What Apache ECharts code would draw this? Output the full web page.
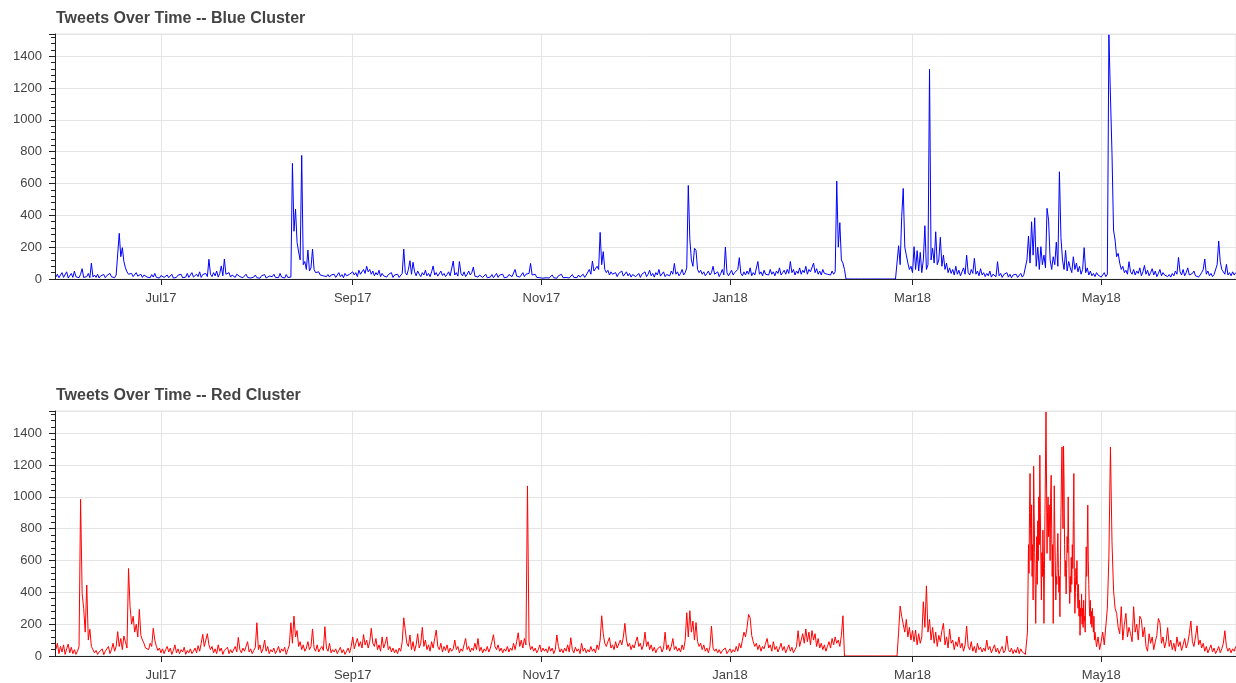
<!DOCTYPE html>
<html><head><meta charset="utf-8">
<script src="https://cdn.jsdelivr.net/npm/echarts@6/dist/echarts.min.js"></script>
<style>html,body{margin:0;padding:0;background:#fff}#c{width:1236px;height:683px}</style>
</head><body><div id="c"></div>
<script>
// ---- data ----
const titles = ['Tweets Over Time -- Blue Cluster', 'Tweets Over Time -- Red Cluster'];
const monthLabels = ['Jan','Feb','Mar','Apr','May','Jun','Jul','Aug','Sep','Oct','Nov','Dec'];
const seriesStart = '2017-05-28T00:00:00';
const stepHours = 12;
const xMin = '2017-05-27T17:30:00';
const xMax = '2018-06-13T14:20:00';
const yMax = 1540;
const yMajor = 200;
const yMinor = 40;

// blue: one value every 12 hours from seriesStart
const blueValues = [
12,30,8,25,40,10,20,45,6,18,35,10,50,14,22,8,30,65,10,20,
15,35,8,100,12,25,10,30,6,20,12,28,8,22,10,35,14,20,8,25,
30,287,140,197,110,70,45,30,20,35,15,25,40,18,12,30,10,25,35,12,
20,8,28,12,35,10,18,6,22,30,10,15,25,8,12,30,6,18,10,24,
14,30,8,20,12,35,10,25,40,12,18,30,15,45,10,28,20,35,15,124,
30,15,40,20,50,12,35,82,20,126,30,18,40,12,25,35,10,30,20,15,
25,8,15,30,10,20,6,18,12,25,8,15,5,20,10,28,6,12,18,8,
15,30,10,22,8,35,12,20,6,28,10,18,12,727,300,440,230,170,120,777,
90,110,60,182,50,70,188,60,40,30,45,25,35,20,30,15,28,12,25,18,
30,10,22,40,15,28,8,35,20,12,30,18,45,25,40,15,55,30,20,60,
35,80,45,60,30,50,20,40,25,55,15,35,20,30,12,28,18,40,10,25,
15,30,10,20,35,188,40,25,60,115,30,105,45,20,50,30,15,40,25,55,
20,35,15,45,82,25,40,18,30,50,22,35,15,28,45,20,30,113,25,40,
18,110,35,20,45,15,30,50,25,40,75,18,30,12,25,35,10,22,30,8,
20,12,28,8,18,35,10,25,15,30,8,20,12,28,40,15,25,60,18,30,
12,25,40,15,30,20,35,98,25,15,30,10,20,8,15,5,12,8,18,6,
10,25,8,15,5,20,12,30,8,18,10,22,6,15,28,10,20,8,25,12,
18,30,10,25,15,60,30,113,50,40,80,60,293,90,172,60,40,55,25,45,
30,20,40,15,35,25,50,18,30,45,20,35,12,28,40,15,25,35,10,30,
20,45,15,30,55,20,35,12,40,25,60,18,30,45,15,28,38,20,50,30,
98,30,45,20,35,60,25,40,70,588,250,120,80,193,180,60,40,55,30,45,
20,35,50,25,40,80,30,20,45,15,35,60,25,201,40,20,30,55,25,40,
30,60,134,35,20,45,25,50,30,70,20,40,25,35,110,30,45,20,55,30,
40,25,60,30,45,20,50,35,70,25,40,55,30,60,35,110,40,60,25,50,
35,70,30,55,40,80,30,60,45,35,100,40,65,30,50,25,60,35,45,30,
40,25,50,30,45,615,200,354,120,100,60,0,0,0,0,0,0,0,0,0,
0,0,0,0,0,0,0,0,0,0,0,0,0,0,0,0,0,0,0,0,
0,0,0,0,0,209,90,391,569,200,150,100,60,80,40,203,60,178,50,167,
40,120,335,60,90,1318,120,193,100,297,90,120,262,80,150,60,100,40,70,35,
60,25,80,30,55,20,45,70,30,150,40,25,60,35,130,30,50,20,65,25,
40,15,35,20,50,12,30,25,15,109,20,35,10,28,18,40,12,30,8,25,
15,30,10,22,35,12,28,18,120,270,100,360,150,385,80,200,60,203,90,150,
70,444,370,120,60,140,90,232,80,674,260,120,60,180,50,110,70,40,140,60,
100,45,80,30,60,197,40,70,25,50,20,35,15,40,25,30,12,25,40,15,
30,1535,1150,790,308,245,140,161,100,60,80,40,55,30,109,45,30,60,25,50,
35,70,20,45,85,30,55,20,40,65,25,50,15,35,60,20,40,25,30,15,
28,12,35,20,50,30,136,45,25,60,20,40,70,25,15,35,50,20,30,12,
25,40,60,126,30,50,20,35,15,28,40,90,239,110,60,45,30,92,25,40,
20,45,25,40
];

// red: 12-hourly values up to 2018-04-07 (628 values)
const redValuesBefore = [
40,80,15,60,25,70,10,45,75,20,55,15,40,10,30,60,985,394,300,150,
446,100,168,60,40,20,35,10,25,15,45,8,30,20,60,15,40,80,30,60,
153,60,110,40,126,90,50,550,310,200,250,150,200,120,293,130,100,80,50,60,
40,80,60,174,100,60,35,50,20,45,15,40,60,25,50,10,35,70,20,45,
15,40,25,55,10,35,20,45,15,30,50,20,65,30,80,136,60,100,140,70,
40,60,20,45,15,70,30,50,10,35,25,55,15,40,20,30,60,25,117,40,
20,50,30,60,90,25,45,15,35,55,209,40,70,20,45,100,30,60,15,40,
25,50,15,35,60,20,45,30,55,10,40,70,209,80,251,120,160,60,90,40,
70,30,50,90,40,60,170,50,30,70,25,45,60,35,184,50,30,80,20,40,
25,45,15,35,55,20,40,10,30,50,20,60,120,45,80,110,60,90,50,135,
70,100,50,90,174,80,60,110,40,70,30,120,50,80,120,40,60,25,50,20,
40,15,50,30,90,240,236,80,60,132,40,90,30,70,140,50,80,180,60,100,
40,70,30,90,50,110,163,60,40,80,25,60,35,70,20,50,30,45,100,40,
60,20,45,30,70,110,40,60,25,50,35,80,40,110,30,55,20,45,30,60,
25,50,90,134,60,40,70,30,50,20,45,30,60,25,50,35,80,40,90,146,
60,100,50,110,70,1069,90,40,60,30,50,20,40,70,25,50,30,45,20,60,
30,50,15,40,132,60,25,45,20,50,30,70,25,115,40,20,55,30,45,15,
80,30,50,20,40,25,60,30,45,20,70,40,100,253,140,80,60,90,115,50,
70,40,90,50,60,100,70,120,205,100,60,80,40,70,50,90,120,60,80,40,
70,150,60,90,40,70,30,55,20,45,35,60,25,50,150,40,70,30,60,110,
40,60,30,50,25,70,40,100,272,120,285,150,220,100,210,90,60,80,40,70,
30,50,20,60,188,50,30,45,20,40,15,35,25,50,15,30,45,20,40,25,
60,30,80,50,100,150,120,180,261,240,130,90,60,80,40,70,30,60,45,80,
110,50,70,30,90,40,60,25,50,80,35,60,20,45,70,30,55,20,40,60,
159,60,100,140,80,170,90,150,70,160,100,140,60,110,50,80,40,70,30,60,
90,50,110,70,120,80,100,60,130,253,0,0,0,0,0,0,0,0,0,0,
0,0,0,0,0,0,0,0,0,0,0,0,0,0,0,0,0,0,0,0,
0,0,0,0,0,150,314,250,200,150,230,120,180,100,160,90,163,70,140,80,
120,341,180,441,150,230,100,180,80,150,60,130,90,160,205,70,120,50,170,80,
100,40,90,60,120,50,80,30,70,188,60,40,90,30,60,20,80,40,55,25,
50,30,100,40,60,20,45,70,25,50,15,40,60,20,35,126,40,25,50,15,
40,20,55,15,45,25,35,10
];

// red: 4-hourly values, 2018-04-07 to 2018-04-29 (the April surge)
const redStepHoursApril = 4;
const redValuesApril = [
20,150,404,700,520,900,
1147,800,600,950,500,700,
352,1193,900,650,450,205,
500,750,450,850,600,1000,
700,1262,900,600,352,650,
500,791,600,205,550,900,
1200,1534,1100,645,900,1000,
750,950,830,600,1000,1136,
800,500,700,205,600,1070,
800,600,352,500,450,650,
770,550,400,500,247,600,
900,1150,1314,1000,800,1320,
1100,700,500,600,390,550,
750,650,1000,700,450,330,
500,400,620,450,700,550,
850,1147,500,268,400,550,
450,600,400,300,450,250,
350,130,300,250,390,200,
300,180,350,220,250,150,
400,686,500,700,948,600,
450,310,250,350,200,280,
180,300,226,150,250,100
];

// red: 12-hourly values from 2018-04-29 onward
const redValuesAfter = [
150,58,120,40,90,150,70,58,
300,624,1314,718,414,300,268,180,140,310,100,200,268,120,180,140,90,310,150,200,
100,250,230,120,180,60,30,140,80,120,40,90,130,236,209,80,120,50,90,178,
60,100,40,80,30,120,60,90,35,70,110,50,80,140,220,90,60,120,190,70,
100,50,80,30,60,20,45,70,25,50,15,35,60,20,45,80,159,60,30,50,
20,45,30,60
];

// ---- chart ----
const HOUR = 3600 * 1000;
const t0 = new Date(seriesStart).getTime();
const step = stepHours * HOUR;
const toPairs = (vals, start, stp) => vals.map((v, i) => [start + i * stp, v]);
const xMinT = new Date(xMin).getTime();
const xMaxT = new Date(xMax).getTime();

const blueData = toPairs(blueValues, t0, step);
const aprStart = t0 + redValuesBefore.length * step;
const afterStart = aprStart + redValuesApril.length * redStepHoursApril * HOUR;
const redData = toPairs(redValuesBefore, t0, step)
  .concat(toPairs(redValuesApril, aprStart, redStepHoursApril * HOUR))
  .concat(toPairs(redValuesAfter, afterStart, step));

const FONT = "'Liberation Sans', Arial, Helvetica, sans-serif";
const gridTops = [34, 411];
const colors = ['#0000ff', '#ff0000'];
const seriesData = [blueData, redData];

const grids = [], xAxes = [], yAxes = [], series = [], titleOpts = [];
gridTops.forEach((top, g) => {
  grids.push({ left: 55, top: top, width: 1181, height: 245, show: true,
    containLabel: false, outerBoundsMode: 'none',
    borderColor: '#e5e5e5', borderWidth: 1, backgroundColor: 'transparent' });
  titleOpts.push({ text: titles[g], left: 56, top: top - 23, padding: 0,
    textStyle: { fontFamily: FONT, fontSize: 16, fontWeight: 'bold', color: '#444' } });
  // x: grid lines (behind)
  xAxes.push({ type: 'time', gridIndex: g, position: 'bottom', offset: 0, min: xMinT, max: xMaxT, z: 0,
    axisLine: { show: false }, axisTick: { show: false }, axisLabel: { show: false },
    splitLine: { show: true, lineStyle: { color: '#e5e5e5', width: 1 } } });
  // x: axis line, ticks, labels (front)
  xAxes.push({ type: 'time', gridIndex: g, position: 'bottom', offset: 0, min: xMinT, max: xMaxT, z: 5,
    axisLine: { show: true, onZero: false, lineStyle: { color: '#222', width: 1 } },
    axisTick: { show: true, length: 6, lineStyle: { color: '#222' } },
    axisLabel: { show: true, margin: 13, fontFamily: FONT, fontSize: 13, color: '#444',
      formatter: v => { const d = new Date(v); return monthLabels[d.getMonth()] + String(d.getFullYear()).slice(2); } },
    splitLine: { show: false } });
  // y: grid lines
  yAxes.push({ type: 'value', gridIndex: g, position: 'left', offset: 0, min: 0, max: yMax, interval: yMajor, z: 0,
    axisLine: { show: false }, axisTick: { show: false }, axisLabel: { show: false },
    splitLine: { show: true, lineStyle: { color: '#e5e5e5', width: 1 } } });
  // y: major ticks + labels
  yAxes.push({ type: 'value', gridIndex: g, position: 'left', offset: 0, min: 0, max: yMax, interval: yMajor, z: 5,
    axisLine: { show: true, onZero: false, lineStyle: { color: '#222', width: 1 } },
    axisTick: { show: true, length: 6, lineStyle: { color: '#222' } },
    axisLabel: { show: true, margin: 13, fontFamily: FONT, fontSize: 13, color: '#444',
      formatter: v => (v % yMajor === 0 ? String(v) : '') },
    splitLine: { show: false } });
  // y: minor ticks
  yAxes.push({ type: 'value', gridIndex: g, position: 'left', offset: 0, min: 0, max: yMax, interval: yMinor, z: 5,
    axisLine: { show: false },
    axisTick: { show: true, length: 4, lineStyle: { color: '#222' } },
    axisLabel: { show: false }, splitLine: { show: false } });
  series.push({ type: 'line', xAxisIndex: g * 2 + 1, yAxisIndex: g * 3 + 1,
    data: seriesData[g], showSymbol: false, symbol: 'none',
    lineStyle: { color: colors[g], width: 1 }, itemStyle: { color: colors[g] },
    sampling: null, z: 2, animation: false });
});

const chart = echarts.init(document.getElementById('c'), null, { renderer: 'canvas' });
chart.setOption({
  animation: false,
  backgroundColor: '#ffffff',
  title: titleOpts,
  grid: grids,
  xAxis: xAxes,
  yAxis: yAxes,
  series: series
});
</script>
</body></html>
